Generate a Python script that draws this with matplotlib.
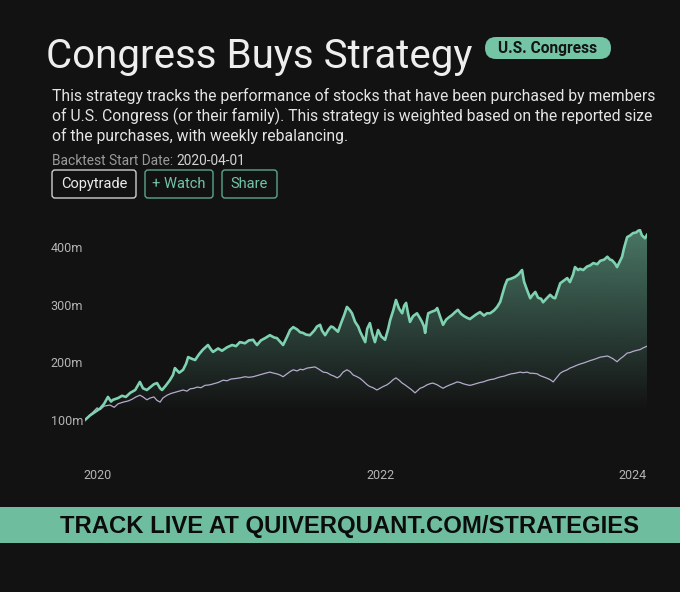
import numpy as np
import pandas as pd
import matplotlib
matplotlib.use("Agg")
import matplotlib.pyplot as plt
import matplotlib.dates as mdates
from matplotlib.patches import FancyBboxPatch, Rectangle

# data (days since backtest start, value in millions)
start = pd.Timestamp("2020-04-01")

strategy_days = [0, 13, 26, 39, 49, 59, 67, 72, 85, 95, 105, 116, 129, 141, 149, 159, 170, 177, 185, 193,
                 198, 208, 218, 226, 231, 242, 252, 260, 265, 275, 283, 293, 303, 316, 324, 329, 342, 352, 365, 378,
                 388, 398, 411, 421, 432, 437, 442, 452, 463, 475, 486, 493, 501, 509, 519, 527, 535, 545, 553, 560,
                 568, 578, 589, 596, 604, 609, 617, 625, 632, 637, 645, 650, 658, 666, 673, 681, 686, 694, 702, 707,
                 712, 720, 725, 732, 738, 745, 750, 753, 761, 771, 779, 784, 792, 799, 807, 815, 820, 825, 830, 835,
                 843, 853, 861, 866, 871, 874, 879, 882, 892, 900, 905, 912, 920, 928, 935, 943, 951, 958, 966, 974,
                 982, 989, 997, 1005, 1015, 1025, 1033, 1041, 1051, 1059, 1067, 1072, 1079, 1085, 1095, 1105, 1113, 1123, 1128, 1136,
                 1144, 1149, 1157, 1164, 1172, 1177, 1185, 1195, 1203, 1208, 1215, 1221, 1231, 1239, 1246, 1254, 1259, 1267, 1272, 1280,
                 1290, 1298, 1306, 1316, 1324, 1334, 1342, 1349, 1354, 1362, 1367, 1372, 1380, 1385, 1393, 1401, 1408, 1416, 1421, 1426,
                 1431, 1439, 1444]
strategy_vals = [100, 108, 114, 120, 128, 140, 132, 135, 138, 142, 140, 147, 152, 166, 155, 152, 158, 162, 164, 155,
                 152, 160, 169, 178, 190, 182, 187, 198, 209, 206, 204, 214, 222, 230, 222, 218, 224, 220, 226, 230,
                 228, 235, 233, 238, 239, 234, 230, 238, 242, 247, 243, 242, 236, 230, 244, 256, 261, 257, 252, 251,
                 248, 247, 255, 262, 265, 255, 247, 256, 262, 261, 256, 253, 268, 282, 296, 290, 285, 270, 262, 253,
                 246, 235, 258, 268, 250, 235, 248, 256, 245, 239, 258, 273, 290, 308, 293, 285, 298, 303, 285, 270,
                 280, 285, 276, 270, 262, 251, 275, 285, 288, 290, 294, 280, 265, 274, 278, 282, 287, 291, 284, 280,
                 277, 275, 279, 283, 287, 281, 285, 285, 290, 296, 305, 317, 333, 343, 345, 348, 352, 360, 340, 325,
                 311, 316, 322, 312, 310, 304, 310, 317, 312, 311, 325, 337, 342, 346, 339, 352, 365, 360, 362, 360,
                 366, 368, 372, 370, 376, 378, 383, 378, 377, 371, 365, 372, 383, 398, 417, 420, 424, 425, 428, 429,
                 420, 415, 421]

benchmark_days = [0, 8, 18, 31, 39, 49, 64, 75, 85, 98, 111, 121, 131, 141, 149, 159, 167, 177, 185, 193,
                  200, 211, 221, 231, 242, 252, 262, 270, 280, 288, 298, 308, 321, 332, 342, 355, 365, 375, 388, 398,
                  411, 421, 432, 442, 452, 463, 475, 486, 493, 501, 509, 519, 527, 535, 545, 553, 560, 571, 581, 591,
                  601, 612, 622, 632, 640, 648, 655, 663, 673, 681, 689, 699, 707, 714, 725, 732, 740, 750, 758, 766,
                  776, 784, 792, 799, 807, 815, 822, 830, 838, 848, 856, 861, 869, 879, 887, 894, 905, 912, 920, 928,
                  938, 946, 956, 964, 971, 982, 989, 995, 1005, 1015, 1023, 1031, 1041, 1051, 1059, 1069, 1077, 1085, 1095, 1105,
                  1118, 1126, 1136, 1144, 1151, 1162, 1169, 1177, 1185, 1195, 1203, 1210, 1221, 1228, 1239, 1246, 1254, 1264, 1272, 1282,
                  1290, 1298, 1308, 1316, 1324, 1334, 1342, 1349, 1357, 1367, 1375, 1383, 1393, 1401, 1408, 1419, 1426, 1434, 1444]
benchmark_vals = [100, 106, 112, 121, 118, 124, 126, 122, 128, 131, 133, 136, 140, 143, 140, 135, 138, 140, 134, 131,
                  138, 143, 146, 148, 150, 152, 150, 154, 155, 157, 156, 160, 161, 163, 165, 169, 168, 171, 172, 173,
                  175, 174, 175, 177, 179, 181, 183, 181, 180, 178, 175, 180, 184, 187, 185, 188, 187, 190, 191, 192,
                  188, 183, 182, 178, 176, 173, 176, 183, 187, 184, 178, 175, 172, 168, 161, 158, 156, 152, 155, 158,
                  161, 165, 170, 173, 169, 164, 161, 157, 153, 147, 152, 155, 157, 161, 163, 164, 161, 158, 155, 158,
                  161, 163, 166, 165, 163, 161, 160, 161, 163, 165, 166, 168, 170, 171, 173, 175, 176, 178, 180, 181,
                  183, 182, 183, 181, 181, 180, 177, 175, 173, 170, 166, 172, 181, 184, 187, 190, 192, 195, 197, 199,
                  201, 203, 205, 207, 209, 210, 211, 209, 206, 201, 206, 210, 216, 217, 219, 221, 222, 225, 228]

y_ticks = [100, 200, 300, 400]
y_labels = ["100m", "200m", "300m", "400m"]
x_tick_days = [33, 758, 1406]
x_labels = ["2020", "2022", "2024"]

description = ["This strategy tracks the performance of stocks that have been purchased by members",
               "of U.S. Congress (or their family). This strategy is weighted based on the reported size",
               "of the purchases, with weekly rebalancing."]

BG = "#121212"
GREEN = "#74c4a6"
LINE_GREEN = "#7fd2b1"
PURPLE = "#b5abcc"
W, H = 680, 592

fig = plt.figure(figsize=(W / 100, H / 100), dpi=100, facecolor=BG)

# overlay axes in pixel coordinates for the header and banner
ov = fig.add_axes([0, 0, 1, 1])
ov.set_xlim(0, W)
ov.set_ylim(H, 0)
ov.axis("off")
ov.set_facecolor(BG)

sans = ["Roboto", "DejaVu Sans"]
ov.text(46, 68, "Congress Buys Strategy", fontsize=29, color="#eeeeee", family=sans, va="baseline")
ov.add_patch(FancyBboxPatch((485, 37), 126, 22, boxstyle="round,pad=0,rounding_size=11",
                            fc=GREEN, ec="none"))
ov.text(548, 48.5, "U.S. Congress", fontsize=11.2, color="#151515", fontweight="bold",
        family=sans, ha="center", va="center")

for i, line in enumerate(description):
    ov.text(52, 101 + 20 * i, line, fontsize=11.35, color="#e4e4e4", family=sans, va="baseline")

t = ov.text(52, 165, "Backtest Start Date: ", fontsize=9.9, color="#9a9a9a", family=sans, va="baseline")
ov.annotate("2020-04-01", xycoords=t, xy=(1, 0), va="bottom", fontsize=9.9, color="#d4d4d4",
            family=sans)

buttons = [("Copytrade", 52, 136, "#d0d0d0", "#ececec"),
           ("+ Watch", 145, 213, "#5aa68a", GREEN),
           ("Share", 222, 277, "#5aa68a", GREEN)]
for label, x0, x1, ec, tc in buttons:
    ov.add_patch(FancyBboxPatch((x0, 170), x1 - x0, 28, boxstyle="round,pad=0,rounding_size=3",
                                fc="none", ec=ec, lw=1))
    ov.text((x0 + x1) / 2, 184, label, fontsize=10.5, color=tc, family=sans, ha="center", va="center")

ov.add_patch(Rectangle((0, 507), W, 36, fc="#6fbd9f", ec="none"))
ov.text(350, 526, "TRACK LIVE AT QUIVERQUANT.COM/STRATEGIES", fontsize=17.2, fontweight="bold",
        color="#0c0c0c", family=["Liberation Sans", "DejaVu Sans"], ha="center", va="center")

# chart
ax = fig.add_axes([85 / W, 1 - 450 / H, 562 / W, 225 / H])
ax.patch.set_alpha(0)

s_dates = start + pd.to_timedelta(strategy_days, unit="D")
b_dates = start + pd.to_timedelta(benchmark_days, unit="D")
y_lo, y_hi = 48, 438

poly = ax.fill_between(s_dates, strategy_vals, y_lo, color="none", lw=0)
grad = np.zeros((256, 1, 4))
rgb = matplotlib.colors.to_rgb(GREEN)
grad[:, 0, :3] = rgb
grad[:, 0, 3] = np.clip(np.linspace(-0.12, 0.58, 256), 0, 1)
x0 = mdates.date2num(s_dates[0])
x1 = mdates.date2num(s_dates[-1])
im = ax.imshow(grad, extent=[x0, x1, y_lo, y_hi], origin="lower", aspect="auto", zorder=1)
im.set_clip_path(poly.get_paths()[0], transform=ax.transData)

ax.plot(b_dates, benchmark_vals, color=PURPLE, lw=0.9, zorder=2)
ax.plot(s_dates, strategy_vals, color=LINE_GREEN, lw=1.9, zorder=3)

ax.set_xlim(s_dates[0], s_dates[-1])
ax.set_ylim(y_lo, y_hi)
ax.set_yticks(y_ticks)
ax.set_yticklabels(y_labels)
ax.set_xticks(start + pd.to_timedelta(x_tick_days, unit="D"))
ax.set_xticklabels(x_labels)
ax.tick_params(length=0, colors="#b4b4b4", labelsize=9)
ax.tick_params(axis="y", pad=1.5)
ax.tick_params(axis="x", pad=14)
for lab in ax.get_xticklabels() + ax.get_yticklabels():
    lab.set_family(sans)
for sp in ax.spines.values():
    sp.set_visible(False)

fig.savefig("out.png", dpi=100, facecolor=BG)
